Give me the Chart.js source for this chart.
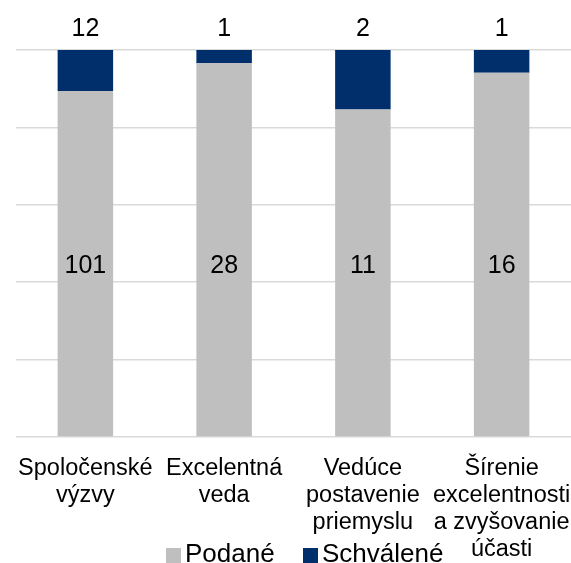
<!DOCTYPE html>
<html><head><meta charset="utf-8">
<script src="https://cdn.jsdelivr.net/npm/chart.js@4/dist/chart.umd.min.js"></script>
<style>html,body{margin:0;padding:0;background:#fff}#w{width:571px;height:563px}</style>
</head><body><div id="w"><canvas id="c" width="571" height="563"></canvas></div>
<script>
const categories = [["Spoločenské","výzvy"],["Excelentná","veda"],["Vedúce","postavenie","priemyslu"],["Šírenie","excelentnosti","a zvyšovanie","účasti"]];
const podane = [101, 28, 11, 16];
const schvalene = [12, 1, 2, 1];
const seriesNames = ["Podané", "Schválené"];
const colors = ["#BFBFBF", "#002F6C"];

const totals = podane.map((v,i)=>v+schvalene[i]);
const pPct = podane.map((v,i)=>v/totals[i]);
const sPct = schvalene.map((v,i)=>v/totals[i]);
const FONT = "'Liberation Sans', Arial, sans-serif";

const labelsPlugin = {
  id:'lbls',
  afterDatasetsDraw(chart){
    const ctx = chart.ctx, y = chart.scales.y;
    ctx.save();
    ctx.font = "25px " + FONT;
    ctx.fillStyle = "#000";
    ctx.textAlign = "center";
    ctx.textBaseline = "middle";
    const raw = [podane, schvalene];
    chart.data.datasets.forEach((ds, di)=>{
      chart.getDatasetMeta(di).data.forEach((bar, i)=>{
        const yy = di === 0 ? y.getPixelForValue(0.442) : y.getPixelForValue(1) - 21;
        ctx.fillText(String(raw[di][i]), bar.x, yy);
      });
    });
    // legend
    ctx.font = "26px " + FONT;
    ctx.textAlign = "left";
    ctx.textBaseline = "alphabetic";
    const lx = [166, 303];
    chart.data.datasets.forEach((ds, di)=>{
      ctx.fillStyle = ds.backgroundColor;
      ctx.fillRect(lx[di], 548, 15, 15);
      ctx.fillStyle = "#000";
      ctx.fillText(ds.label, lx[di] + 19, 562);
    });
    ctx.restore();
  }
};

new Chart(document.getElementById('c'), {
  type: 'bar',
  data: {
    labels: categories,
    datasets: [
      {label: seriesNames[0], data: pPct, backgroundColor: colors[0], categoryPercentage: 0.4, barPercentage: 1},
      {label: seriesNames[1], data: sPct, backgroundColor: colors[1], categoryPercentage: 0.4, barPercentage: 1}
    ]
  },
  options: {
    responsive: false,
    animation: false,
    layout: {padding: {top: 50, left: 0, right: 0, bottom: 0}},
    plugins: {legend: {display: false}, tooltip: {enabled: false}},
    scales: {
      x: {
        stacked: true,
        grid: {display: false},
        border: {display: false},
        ticks: {color: "#000", font: {family: FONT, size: 23.5, lineHeight: 1.15}, padding: 10, maxRotation: 0, autoSkip: false},
        afterFit(s){ s.height = 126; s.paddingLeft = 0; s.paddingRight = 0; }
      },
      y: {
        stacked: true,
        min: 0, max: 1,
        ticks: {display: false, stepSize: 0.2},
        grid: {color: "#D9D9D9", lineWidth: 1.5, drawTicks: false},
        border: {display: false},
        afterFit(s){ s.width = 16; s.paddingTop = 0; s.paddingBottom = 0; }
      }
    }
  },
  plugins: [labelsPlugin]
});
</script></body></html>
